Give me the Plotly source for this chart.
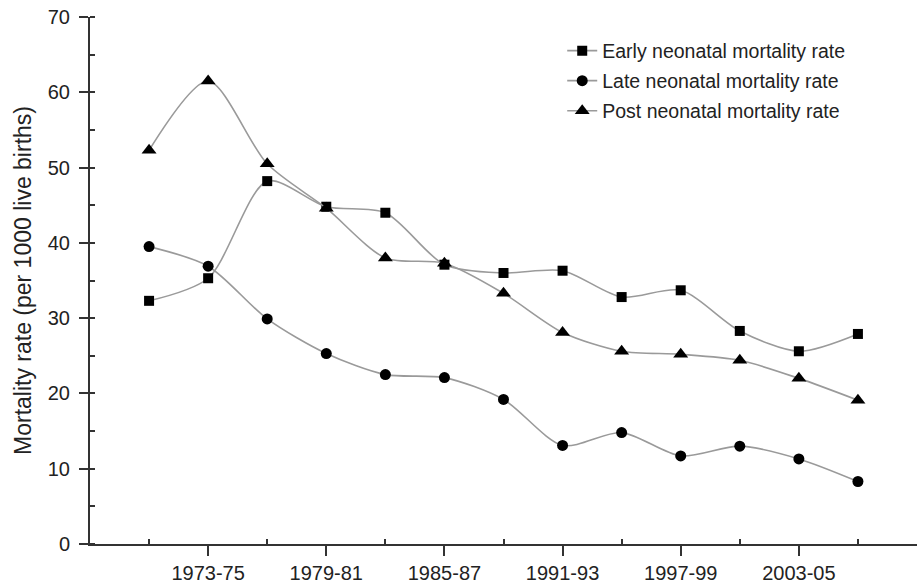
import plotly.graph_objects as go

periods = ["1970-72", "1973-75", "1976-78", "1979-81", "1982-84", "1985-87", "1988-90",
           "1991-93", "1994-96", "1997-99", "2000-02", "2003-05", "2006-08"]
early = [32.3, 35.3, 48.2, 44.8, 44.0, 37.1, 36.0, 36.3, 32.8, 33.7, 28.3, 25.6, 27.9]
late = [39.5, 36.9, 29.9, 25.3, 22.5, 22.1, 19.2, 13.1, 14.8, 11.7, 13.0, 11.3, 8.3]
post = [52.3, 61.5, 50.5, 44.6, 38.0, 37.3, 33.3, 28.1, 25.6, 25.2, 24.4, 22.0, 19.1]
series_names = ["Early neonatal mortality rate", "Late neonatal mortality rate",
                "Post neonatal mortality rate"]

xs = list(range(len(periods)))
font_family = "Liberation Sans, Arial, sans-serif"

fig = go.Figure()
specs = [(early, "square", 10, "legend"), (late, "circle", 11, "legend2"),
         (post, "triangle-up", 13, "legend3")]
for (vals, sym, size, leg), name in zip(specs, series_names):
    fig.add_trace(go.Scatter(
        x=xs, y=vals, name=name, mode="lines+markers",
        line=dict(color="#9a9a9a", width=1.6, shape="spline", smoothing=0.8),
        marker=dict(symbol=sym, size=size, color="black", line=dict(width=0)),
        legend=leg, showlegend=True,
    ))

major = [i for i in xs if i % 2 == 1]
minor = [i for i in xs if i % 2 == 0]

legend_common = dict(font=dict(size=19.5, family=font_family, color="#222"),
                     bgcolor="rgba(0,0,0,0)", xanchor="left", yanchor="middle", x=0.571)
fig.update_layout(
    width=920, height=585,
    margin=dict(l=90, r=3, t=17, b=41),
    plot_bgcolor="white", paper_bgcolor="white",
    showlegend=True,
    font=dict(family=font_family, color="#222"),
    legend=dict(**legend_common, y=0.9355),
    legend2=dict(**legend_common, y=0.8786),
    legend3=dict(**legend_common, y=0.8216),
    xaxis=dict(
        range=[-1, 13], tickmode="array", tickvals=major,
        ticktext=[periods[i] for i in major], automargin=False,
        ticks="outside", ticklen=10, tickwidth=1.5, tickcolor="#333",
        showline=True, linecolor="#333", linewidth=2, showgrid=False, zeroline=False,
        tickfont=dict(size=20, family=font_family, color="#222"),
        minor=dict(tickvals=minor, ticks="inside", ticklen=5, tickwidth=1.5,
                   tickcolor="#333", showgrid=False),
    ),
    yaxis=dict(
        range=[0, 70], dtick=10, tick0=0, automargin=False,
        ticks="outside", ticklen=9, tickwidth=1.5, tickcolor="#333",
        showline=True, linecolor="#333", linewidth=2, showgrid=False, zeroline=False,
        tickfont=dict(size=20, family=font_family, color="#222"),
        ticklabelstandoff=5,
        title=dict(text="Mortality rate (per 1000 live births)",
                   font=dict(size=23, family=font_family, color="#222"), standoff=10),
        minor=dict(dtick=5, tick0=0, ticks="inside", ticklen=5, tickwidth=1.5,
                   tickcolor="#333", showgrid=False),
    ),
)

fig.write_html("out.html", config={"displayModeBar": False},
               post_script="document.body.style.margin='0';")
